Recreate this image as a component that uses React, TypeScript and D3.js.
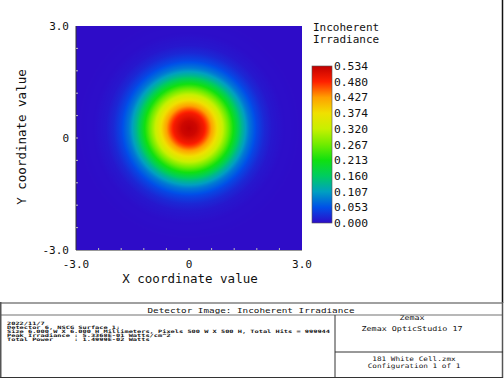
import React from "react";
import * as d3 from "d3";

// ---- data ----
const axisTickValues = [-3, 0, 3];
const axisTickLabels = ["-3.0", "0", "3.0"];
const minorTicks = [-2.4, -1.8, -1.2, -0.6, 0, 0.6, 1.2, 1.8, 2.4];
const colorbarTickLabels = ["0.000", "0.053", "0.107", "0.160", "0.213", "0.267", "0.320", "0.374", "0.427", "0.480", "0.534"];
const peakIrradiance = 0.534;
const spotCenterX = 0.0;
const spotCenterY = 0.26;
// radial irradiance profile (radius mm -> Watts/cm^2)
const profileRadius = [0, 0.2, 0.4, 0.5, 0.6, 0.8, 1.0, 1.2, 1.4, 1.6, 1.8, 2.0, 2.2, 2.5, 3.0];
const profileValue = [0.534, 0.522, 0.49, 0.46, 0.425, 0.355, 0.28, 0.205, 0.135, 0.08, 0.045, 0.022, 0.009, 0.002, 0];
// false-colour map (fraction of peak -> colour)
const cmapPos = [0, 0.1, 0.2, 0.3, 0.4, 0.5, 0.6, 0.7, 0.8, 0.9, 1.0];
const cmapColors = ["#2e0cc8", "#0050e8", "#00a0c0", "#00cc60", "#10e010", "#70ec00", "#c8f000", "#f0e000", "#ffa000", "#ff2000", "#c00000"];

const infoLines = [
  "2022/11/7",
  "Detector 6, NSCG Surface 1:",
  "Size 6.000 W X 6.000 H Millimeters, Pixels 500 W X 500 H, Total Hits = 999944",
  "Peak Irradiance : 5.3368E-01 Watts/cm^2",
  "Total Power     : 1.4999E-02 Watts",
];
const titleText = "Detector Image: Incoherent Irradiance";
const rightTop = ["Zemax", "Zemax OpticStudio 17"];
const rightBottom = ["181 White Cell.zmx", "Configuration 1 of 1"];

const MONO = "'DejaVu Sans Mono', monospace";

export default function App() {
  const x = d3.scaleLinear().domain([-3, 3]).range([76, 302]);
  const y = d3.scaleLinear().domain([-3, 3]).range([250, 26]);
  const cmap = d3.scaleLinear<string>().domain(cmapPos).range(cmapColors).interpolate(d3.interpolateRgb);
  const profile = d3.scaleLinear().domain(profileRadius).range(profileValue).clamp(true);

  const rMax = 3;
  const rPx = x(rMax) - x(0);
  const radialStops = d3.range(0, 121).map((i) => {
    const r = (i / 120) * rMax;
    return { off: i / 120, color: cmap(profile(r) / peakIrradiance) };
  });

  const cbX = 312, cbW = 20;
  const cb = d3.scaleLinear().domain([0, colorbarTickLabels.length - 1]).range([223, 66]);
  const cbStops = d3.range(0, 41).map((i) => ({ off: i / 40, color: cmap(1 - i / 40) }));
  const charW = 323 / infoLines[2].length;

  return (
    <div style={{ position: "absolute", left: 0, top: 0 }}>
      <svg width={504} height={378} style={{ display: "block", background: "#fff" }}>
        <defs>
          <radialGradient id="spot" gradientUnits="userSpaceOnUse" cx={x(spotCenterX)} cy={y(spotCenterY)} r={rPx}>
            {radialStops.map((s, i) => (
              <stop key={i} offset={s.off} stopColor={s.color} />
            ))}
          </radialGradient>
          <linearGradient id="cbar" x1="0" y1="0" x2="0" y2="1">
            {cbStops.map((s, i) => (
              <stop key={i} offset={s.off} stopColor={s.color} />
            ))}
          </linearGradient>
          <clipPath id="rtclip">
            <rect x={335} y={315.5} width={167} height={36} />
          </clipPath>
        </defs>

        {/* image */}
        <rect x={x(-3)} y={y(3)} width={x(3) - x(-3)} height={y(-3) - y(3)} fill="url(#spot)" />
        {/* axes lines */}
        <line x1={x(-3)} x2={x(-3)} y1={y(3)} y2={y(-3)} stroke="#333" strokeWidth={1} />
        <line x1={x(-3)} x2={x(3)} y1={y(-3) + 0.5} y2={y(-3) + 0.5} stroke="#999" strokeWidth={1} />
        {minorTicks.map((t) => (
          <line key={"mx" + t} x1={x(t)} x2={x(t)} y1={y(-3)} y2={y(-3) - 2} stroke="#bbb" strokeWidth={1} />
        ))}
        {minorTicks.map((t) => (
          <line key={"my" + t} x1={x(-3)} x2={x(-3) + 2} y1={y(t)} y2={y(t)} stroke="#bbb" strokeWidth={1} />
        ))}

        {/* tick labels */}
        {axisTickValues.map((v, i) => (
          <text key={"xt" + i} x={x(v)} y={268} textAnchor="middle" fontFamily={MONO} fontSize={11} fill="#111">
            {axisTickLabels[i]}
          </text>
        ))}
        {axisTickValues.map((v, i) => (
          <text key={"yt" + i} x={69} y={y(v) + 4} textAnchor="end" fontFamily={MONO} fontSize={11} fill="#111">
            {axisTickLabels[i]}
          </text>
        ))}
        <text x={190} y={283} textAnchor="middle" fontFamily={MONO} fontSize={12.5} fill="#111">
          X coordinate value
        </text>
        <text transform={`translate(26,137) rotate(-90)`} textAnchor="middle" fontFamily={MONO} fontSize={12.5} fill="#111">
          Y coordinate value
        </text>

        {/* colour bar */}
        <text x={313} y={30.5} fontFamily={MONO} fontSize={11} fill="#111">Incoherent</text>
        <text x={313} y={42.5} fontFamily={MONO} fontSize={11} fill="#111">Irradiance</text>
        <rect x={cbX} y={cb(10)} width={cbW} height={cb(0) - cb(10)} fill="url(#cbar)" stroke="#555" strokeWidth={0.6} />
        {colorbarTickLabels.map((l, i) => (
          <text key={"cb" + i} x={334} y={cb(i) + 4} fontFamily={MONO} fontSize={11.3} fill="#111">
            {l}
          </text>
        ))}

        {/* right edge */}
        <line x1={502.5} x2={502.5} y1={0} y2={303} stroke="#111" strokeWidth={1.5} />

        {/* info table */}
        <line x1={0} x2={503} y1={303} y2={303} stroke="#a0a0a0" strokeWidth={2} />
        <line x1={0} x2={503} y1={315} y2={315} stroke="#a0a0a0" strokeWidth={1.5} />
        <line x1={0.75} x2={0.75} y1={302} y2={378} stroke="#555" strokeWidth={1.5} />
        <line x1={502.5} x2={502.5} y1={302} y2={378} stroke="#555" strokeWidth={1.5} />
        <line x1={0} x2={503} y1={377.5} y2={377.5} stroke="#333" strokeWidth={1} />
        <line x1={335} x2={335} y1={315} y2={378} stroke="#333" strokeWidth={1} />
        <line x1={335} x2={503} y1={352} y2={352} stroke="#333" strokeWidth={1} />

        <text transform="translate(251,312.5) scale(1,0.75)" textAnchor="middle" fontFamily={MONO} fontSize={9.3} fill="#111" textLength={207} lengthAdjust="spacingAndGlyphs">
          {titleText}
        </text>
        {infoLines.map((l, i) => (
          <text key={"info" + i} transform={`translate(7,${325 + i * 4})  scale(1,0.65)`} fontFamily={MONO} fontSize={7} fontWeight="bold" fill="#111" style={{ whiteSpace: "pre" }} textLength={l.length * charW} lengthAdjust="spacingAndGlyphs">
            {l}
          </text>
        ))}
        <g clipPath="url(#rtclip)">
          {rightTop.map((l, i) => (
            <text key={"rt" + i} transform={`translate(412,${319.5 + i * 11}) scale(1,0.8)`} textAnchor="middle" fontFamily={MONO} fontSize={8.4} fill="#111">
              {l}
            </text>
          ))}
        </g>
        {rightBottom.map((l, i) => (
          <text key={"rb" + i} transform={`translate(414,${360.5 + i * 7.5}) scale(1,0.8)`} textAnchor="middle" fontFamily={MONO} fontSize={7.7} fill="#111">
            {l}
          </text>
        ))}
      </svg>
    </div>
  );
}
